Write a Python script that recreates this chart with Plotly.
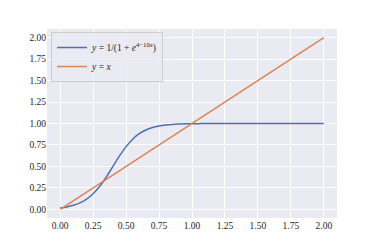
import plotly.graph_objects as go

x_vals = [0.0, 0.05, 0.1, 0.15, 0.2, 0.25, 0.3, 0.35, 0.4, 0.45, 0.5, 0.55, 0.6, 0.65,
          0.7, 0.75, 0.8, 0.85, 0.9, 0.95, 1.0, 1.05, 1.1, 1.2, 1.3, 1.4, 1.6, 1.8, 2.0]
sigmoid_vals = [0.0180, 0.0293, 0.0474, 0.0759, 0.1192, 0.1824, 0.2689, 0.3775, 0.5000,
                0.6225, 0.7311, 0.8176, 0.8808, 0.9241, 0.9526, 0.9707, 0.9820, 0.9890,
                0.9933, 0.9959, 0.9975, 0.9985, 0.9991, 0.9997, 0.9999, 1.0, 1.0, 1.0, 1.0]
line_x = [0.0, 2.0]
line_y = [0.0, 2.0]
tick_vals = [0.0, 0.25, 0.5, 0.75, 1.0, 1.25, 1.5, 1.75, 2.0]
tick_text = ["0.00", "0.25", "0.50", "0.75", "1.00", "1.25", "1.50", "1.75", "2.00"]

font_family = "Liberation Serif, DejaVu Serif, serif"

fig = go.Figure()
fig.add_trace(go.Scatter(
    x=x_vals, y=sigmoid_vals, mode="lines",
    line=dict(color="#4C72B0", width=1.5, shape="spline", smoothing=0.6),
    name="<i>y</i> = 1/(1 + <i>e</i><sup>4−10<i>x</i></sup>)"))
fig.add_trace(go.Scatter(
    x=line_x, y=line_y, mode="lines", line=dict(color="#DD8452", width=1.5),
    name="<i>y</i> = <i>x</i>"))

axis_common = dict(
    tickvals=tick_vals, ticktext=tick_text, showgrid=True, gridcolor="white", gridwidth=1,
    zeroline=False, showline=False, ticks="",
    tickfont=dict(size=9.5, color="#262626", family=font_family),
)
fig.update_layout(
    width=374, height=249,
    margin=dict(l=39, r=45, t=21, b=39),
    paper_bgcolor="white", plot_bgcolor="#EAEAF2",
    font=dict(family=font_family, size=9.5, color="#262626"),
    xaxis=dict(range=[-0.1, 2.1], automargin=False, **axis_common),
    yaxis=dict(range=[-0.1, 2.1], automargin=False, **axis_common),
    showlegend=True,
    legend=dict(x=0.014, y=0.984, xanchor="left", yanchor="top",
                bgcolor="rgba(234,234,242,0.8)", bordercolor="#CCCCCC", borderwidth=1,
                font=dict(size=9.5, family=font_family, color="#262626"),
                tracegroupgap=0, itemwidth=30),
)
fig.write_html("out.html")
